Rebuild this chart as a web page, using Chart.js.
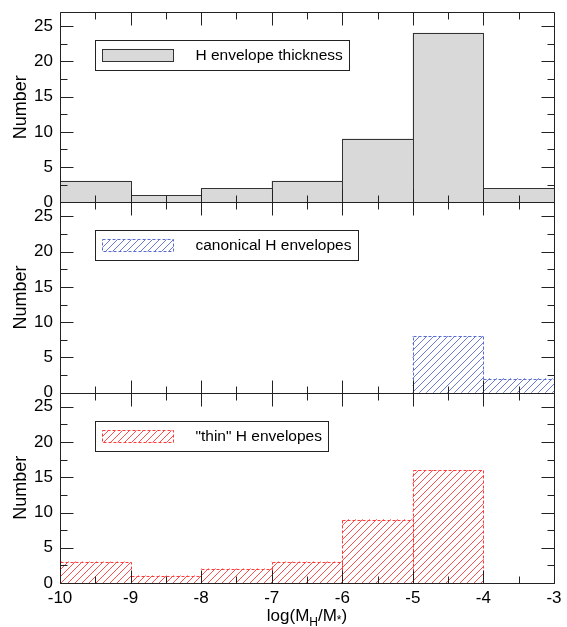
<!DOCTYPE html>
<html><head><meta charset="utf-8">
<script src="https://cdn.jsdelivr.net/npm/chart.js@4.4.0/dist/chart.umd.min.js"></script>
<style>html,body{margin:0;padding:0;background:#fff;} #wrap{width:567px;height:627px;}</style>
</head><body><div id="wrap"><canvas id="c" width="567" height="627"></canvas></div>
<script>
// ---- data ----
const binCenters = [-9.5, -8.5, -7.5, -6.5, -5.5, -4.5, -3.5];
const totalCounts = [3, 1, 2, 3, 9, 24, 2];
const canonicalCounts = [null, null, null, null, null, 8, 2];
const thinCounts = [3, 1, 2, 3, 9, 16, null];
const xTicks = [-10, -9, -8, -7, -6, -5, -4, -3];
const yTicks = [0, 5, 10, 15, 20, 25];
const seriesLabels = ['H envelope thickness', 'canonical H envelopes', '"thin" H envelopes'];
const yTitle = 'Number';

// ---- styles ----
const FONT = '"Liberation Sans", Arial, Helvetica, sans-serif';
const axisColor = '#222';
function hatch(color) {
  const c = document.createElement('canvas');
  c.width = 7; c.height = 7;
  const g = c.getContext('2d');
  g.strokeStyle = color; g.lineWidth = 0.9;
  g.beginPath();
  g.moveTo(0, 7); g.lineTo(7, 0);
  g.moveTo(-1, 1); g.lineTo(1, -1);
  g.moveTo(6, 8); g.lineTo(8, 6);
  g.stroke();
  return g.createPattern(c, 'repeat');
}
const pts = arr => binCenters.map((x, i) => ({x: x, y: arr[i]}));

const outlinePlugin = {
  id: 'outlines',
  afterDatasetsDraw(chart) {
    const ctx = chart.ctx;
    chart.data.datasets.forEach((ds, i) => {
      const meta = chart.getDatasetMeta(i);
      ctx.save();
      ctx.strokeStyle = ds.outlineColor; ctx.lineWidth = 1; ctx.setLineDash(ds.outlineDash);
      meta.data.forEach((el, j) => {
        const v = ds.data[j].y;
        if (v == null || v === 0) return;
        const p = el.getProps(['x', 'y', 'base', 'width'], true);
        const l = Math.round(p.x - p.width / 2) + 0.5, r = Math.round(p.x + p.width / 2) + 0.5;
        const t = Math.round(p.y) + 0.5, b = Math.round(p.base) + 0.5;
        ctx.strokeRect(l, t, r - l, b - t);
      });
      ctx.restore();
    });
  }
};

const framePlugin = {
  id: 'frameTicks',
  afterDatasetsDraw(chart) {
    const ctx = chart.ctx, a = chart.chartArea, xs = chart.scales.x;
    const panels = ['yTotal', 'yCanon', 'yThin'].map(id => chart.scales[id]);
    ctx.save();
    ctx.strokeStyle = axisColor; ctx.lineWidth = 1;
    ctx.beginPath();
    const L = Math.round(a.left) + 0.5, R = Math.round(a.right) + 0.5;
    ctx.rect(L, Math.round(a.top) + 0.5, R - L, Math.round(a.bottom) - Math.round(a.top));
    panels.forEach(s => {
      const yb = Math.round(s.bottom) + 0.5, yt = Math.round(s.top) + 0.5;
      ctx.moveTo(L, yb); ctx.lineTo(R, yb);
      for (let v = s.min; v <= s.max + 1e-9; v += 2.5) {
        const y = Math.round(s.getPixelForValue(v)) + 0.5;
        const len = (v % 5 === 0) ? 13 : 7;
        ctx.moveTo(L, y); ctx.lineTo(L + len, y);
        ctx.moveTo(R, y); ctx.lineTo(R - len, y);
      }
      for (let v = xs.min; v <= xs.max + 1e-9; v += 0.5) {
        const x = Math.round(xs.getPixelForValue(v)) + 0.5;
        const len = Number.isInteger(v) ? 13 : 7;
        ctx.moveTo(x, yt); ctx.lineTo(x, yt + len);
        ctx.moveTo(x, yb); ctx.lineTo(x, yb - len);
      }
    });
    ctx.stroke();
    ctx.restore();
  }
};

const legendPlugin = {
  id: 'panelLegends',
  afterDraw(chart) {
    const ctx = chart.ctx, a = chart.chartArea;
    chart.data.datasets.forEach(ds => {
      const s = chart.scales[ds.yAxisID];
      ctx.save();
      ctx.font = '15.5px ' + FONT;
      const tw = ctx.measureText(ds.label).width;
      const Lx = Math.round(a.left + 35) + 0.5, Ty = Math.round(s.top + 28) + 0.5;
      const W = Math.round(100 + tw + 7), H = 30;
      ctx.fillStyle = '#fff'; ctx.fillRect(Lx, Ty, W, H);
      ctx.strokeStyle = axisColor; ctx.lineWidth = 1; ctx.strokeRect(Lx, Ty, W, H);
      const sx = Lx + 7, sy = Ty + 9, sw = 71, sh = 12;
      ctx.fillStyle = ds.backgroundColor; ctx.fillRect(sx, sy, sw, sh);
      ctx.setLineDash(ds.outlineDash); ctx.strokeStyle = ds.outlineColor; ctx.strokeRect(sx, sy, sw, sh);
      ctx.setLineDash([]);
      ctx.fillStyle = '#000'; ctx.textBaseline = 'middle'; ctx.textAlign = 'left';
      ctx.fillText(ds.label, Lx + 100, Ty + H / 2 + 0.5);
      ctx.restore();
    });
  }
};

const xTitlePlugin = {
  id: 'xTitle',
  afterDraw(chart) {
    const ctx = chart.ctx, a = chart.chartArea;
    const main = '17px ' + FONT, sub = '12px ' + FONT;
    const parts = [['log(M', main, 0], ['H', sub, 5], ['/M', main, 0], ['*', sub, 3], [')', main, 0]];
    ctx.save();
    let total = 0;
    parts.forEach(p => { ctx.font = p[1]; p.push(ctx.measureText(p[0]).width); total += p[3]; });
    let x = (a.left + a.right) / 2 - total / 2;
    const base = 621;
    ctx.fillStyle = '#000'; ctx.textBaseline = 'alphabetic'; ctx.textAlign = 'left';
    parts.forEach(p => { ctx.font = p[1]; ctx.fillText(p[0], x, base + p[2]); x += p[3]; });
    ctx.restore();
  }
};

function yAxis() {
  return {
    type: 'linear', position: 'left', stack: 'panels', stackWeight: 1,
    min: 0, max: 27,
    afterBuildTicks: s => { s.ticks = yTicks.map(v => ({value: v})); },
    ticks: {font: {family: FONT, size: 17}, color: '#000', padding: 7, includeBounds: false, autoSkip: false},
    grid: {display: false, drawTicks: false},
    border: {display: false},
    title: {display: true, text: yTitle, font: {family: FONT, size: 18}, color: '#000', padding: {top: 10, bottom: 0}},
    afterFit: s => { s.width = 60; s.paddingTop = 0; s.paddingBottom = 0; }
  };
}

new Chart(document.getElementById('c'), {
  type: 'bar',
  data: {
    datasets: [
      {label: seriesLabels[0], data: pts(totalCounts), yAxisID: 'yTotal',
       backgroundColor: '#d9d9d9', borderWidth: 0, outlineColor: '#333', outlineDash: []},
      {label: seriesLabels[1], data: pts(canonicalCounts), yAxisID: 'yCanon',
       backgroundColor: hatch('#5a6cd0'), borderWidth: 0, outlineColor: '#5a6cd0', outlineDash: [3, 2]},
      {label: seriesLabels[2], data: pts(thinCounts), yAxisID: 'yThin',
       backgroundColor: hatch('#ff3a3a'), borderWidth: 0, outlineColor: '#ff3a3a', outlineDash: [3, 2]}
    ]
  },
  options: {
    responsive: false, animation: false, devicePixelRatio: 1,
    layout: {padding: {left: 0, right: 13, top: 12, bottom: 0}},
    datasets: {bar: {grouped: false, barPercentage: 1, categoryPercentage: 1}},
    plugins: {legend: {display: false}, tooltip: {enabled: false}},
    scales: {
      x: {type: 'linear', min: -10, max: -3, offset: false,
          afterBuildTicks: s => { s.ticks = xTicks.map(v => ({value: v})); },
          ticks: {font: {family: FONT, size: 17}, color: '#000', padding: 5, maxRotation: 0, autoSkip: false},
          grid: {display: false, drawTicks: false, offset: false},
          border: {display: false},
          afterFit: s => { s.height = 44; s.paddingLeft = 0; s.paddingRight = 0; }},
      yThin: yAxis(),
      yCanon: yAxis(),
      yTotal: yAxis()
    }
  },
  plugins: [outlinePlugin, framePlugin, legendPlugin, xTitlePlugin]
});
</script></body></html>
